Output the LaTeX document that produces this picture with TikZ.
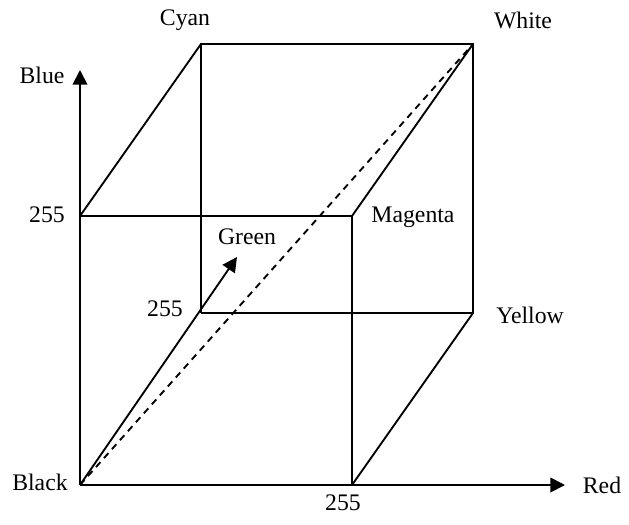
\documentclass[tikz,border=0pt]{standalone}
\usepackage{fontspec}
\setmainfont{Liberation Serif}
\usetikzlibrary{arrows.meta}
\begin{document}
\begin{tikzpicture}[
    x=0.75pt, y=-0.75pt,
    edge/.style={line width=1.4pt},
    axis/.style={line width=1.4pt, -{Triangle[length=11pt, width=11pt]}},
    diag/.style={line width=1.4pt, dash pattern=on 5pt off 4pt},
    lbl/.style={font=\fontsize{17.8}{20}\selectfont, inner sep=0pt}
]
    \useasboundingbox (0,0) rectangle (629,525);

    % Cube corners
    \coordinate (black) at (80,485);
    \coordinate (red) at (352,485);
    \coordinate (blue) at (80,216);
    \coordinate (magenta) at (352,216);
    \coordinate (green) at (201,313);
    \coordinate (yellow) at (473,313);
    \coordinate (cyan) at (201,44);
    \coordinate (white) at (473,44);

    % Axis ends
    \coordinate (redend) at (565,485);
    \coordinate (blueend) at (80,70);
    \coordinate (greenend) at (237,257);

    % Front face
    \draw[edge] (blue) -- (magenta) -- (red);

    % Back face
    \draw[edge] (green) -- (yellow) -- (white) -- (cyan) -- (green);

    % Side edges
    \draw[edge] (blue) -- (cyan);
    \draw[edge] (magenta) -- (white);
    \draw[edge] (red) -- (yellow);

    % Axes
    \draw[axis] (black) -- (redend);
    \draw[axis] (black) -- (blueend);
    \draw[axis] (black) -- (greenend);

    % Grey diagonal
    \draw[diag] (black) -- (white);

    % Labels
    \node[lbl] (cyanlbl) at (185,20) {Cyan};
    \node[lbl] (whitelbl) at (523,20) {White};
    \node[lbl] (bluelbl) at (42,75) {Blue};
    \node[lbl] (bluemax) at (47,215) {255};
    \node[lbl] (greenlbl) at (247,237) {Green};
    \node[lbl] (magentalbl) at (413,217) {Magenta};
    \node[lbl] (greenmax) at (165,309) {255};
    \node[lbl] (yellowlbl) at (530,315) {Yellow};
    \node[lbl] (blacklbl) at (40,482) {Black};
    \node[lbl] (redmax) at (343,503) {255};
    \node[lbl] (redlbl) at (602,485) {Red};
\end{tikzpicture}
\end{document}
